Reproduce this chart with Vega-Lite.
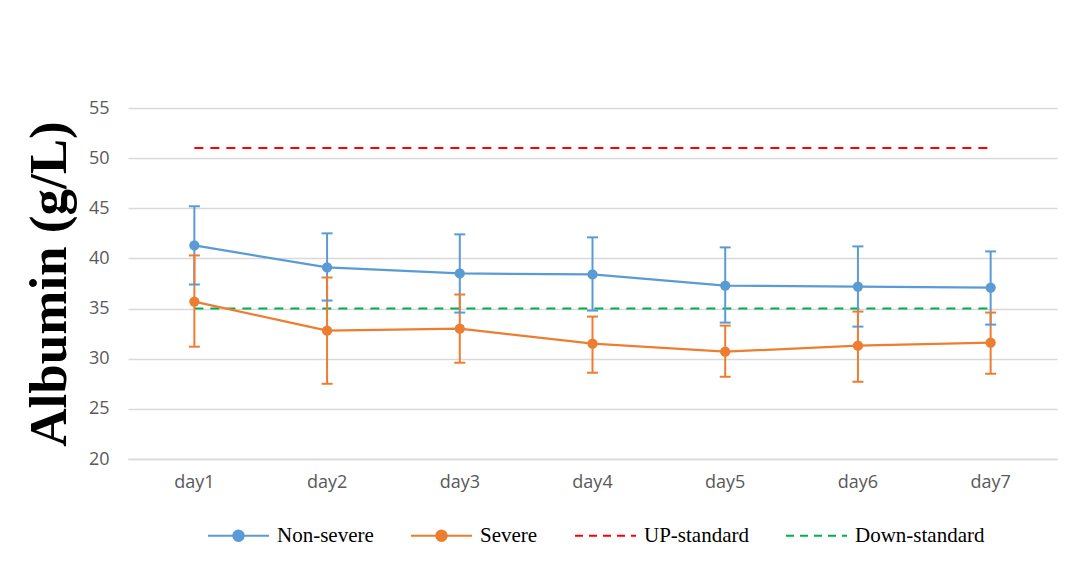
{
  "$schema": "https://vega.github.io/schema/vega-lite/v6.json",
  "autosize": {"type": "none"},
  "padding": {"left": 128, "top": 108, "right": 13, "bottom": 106},
  "width": 929,
  "height": 351,
  "background": "white",
  "config": {"view": {"stroke": null}},
  "datasets": {
    "series": [
      {"day": "day1", "series": "Non-severe", "value": 41.3, "lo": 37.4, "hi": 45.2},
      {"day": "day2", "series": "Non-severe", "value": 39.1, "lo": 35.8, "hi": 42.5},
      {"day": "day3", "series": "Non-severe", "value": 38.5, "lo": 34.6, "hi": 42.4},
      {"day": "day4", "series": "Non-severe", "value": 38.4, "lo": 34.8, "hi": 42.1},
      {"day": "day5", "series": "Non-severe", "value": 37.3, "lo": 33.6, "hi": 41.1},
      {"day": "day6", "series": "Non-severe", "value": 37.2, "lo": 33.2, "hi": 41.2},
      {"day": "day7", "series": "Non-severe", "value": 37.1, "lo": 33.4, "hi": 40.7},
      {"day": "day1", "series": "Severe", "value": 35.7, "lo": 31.2, "hi": 40.3},
      {"day": "day2", "series": "Severe", "value": 32.8, "lo": 27.5, "hi": 38.1},
      {"day": "day3", "series": "Severe", "value": 33.0, "lo": 29.6, "hi": 36.4},
      {"day": "day4", "series": "Severe", "value": 31.5, "lo": 28.6, "hi": 34.2},
      {"day": "day5", "series": "Severe", "value": 30.7, "lo": 28.2, "hi": 33.3},
      {"day": "day6", "series": "Severe", "value": 31.3, "lo": 27.7, "hi": 34.7},
      {"day": "day7", "series": "Severe", "value": 31.6, "lo": 28.5, "hi": 34.6}
    ],
    "standards": [
      {"day": "day1", "series": "UP-standard", "value": 51},
      {"day": "day2", "series": "UP-standard", "value": 51},
      {"day": "day3", "series": "UP-standard", "value": 51},
      {"day": "day4", "series": "UP-standard", "value": 51},
      {"day": "day5", "series": "UP-standard", "value": 51},
      {"day": "day6", "series": "UP-standard", "value": 51},
      {"day": "day7", "series": "UP-standard", "value": 51},
      {"day": "day1", "series": "Down-standard", "value": 35},
      {"day": "day2", "series": "Down-standard", "value": 35},
      {"day": "day3", "series": "Down-standard", "value": 35},
      {"day": "day4", "series": "Down-standard", "value": 35},
      {"day": "day5", "series": "Down-standard", "value": 35},
      {"day": "day6", "series": "Down-standard", "value": 35},
      {"day": "day7", "series": "Down-standard", "value": 35}
    ]
  },
  "encoding": {
    "x": {
      "field": "day", "type": "nominal",
      "scale": {"type": "band", "paddingInner": 0, "paddingOuter": 0},
      "axis": {
        "title": null, "labelAngle": 0, "ticks": false,
        "domain": true, "domainColor": "#d9d9d9", "domainWidth": 1.5,
        "labelFont": "Open Sans", "labelFontSize": 18, "labelColor": "#595959",
        "labelPadding": 14
      }
    }
  },
  "layer": [
    {
      "data": {"name": "standards"},
      "mark": {"type": "line", "strokeWidth": 2},
      "encoding": {
        "y": {
          "field": "value", "type": "quantitative",
          "scale": {"domain": [20, 55], "nice": false, "zero": false},
          "axis": {
            "values": [20, 25, 30, 35, 40, 45, 50, 55],
            "title": "Albumin (g/L)",
            "titleFont": "Liberation Serif", "titleFontSize": 53, "titleFontWeight": "bold",
            "titleColor": "black", "titlePadding": 12,
            "domain": false, "ticks": false,
            "grid": true, "gridColor": "#d9d9d9", "gridWidth": 1.5,
            "labelFont": "Open Sans", "labelFontSize": 18, "labelColor": "#595959",
            "labelPadding": 19
          }
        },
        "color": {
          "field": "series", "type": "nominal", "title": null,
          "scale": {
            "domain": ["Non-severe", "Severe", "UP-standard", "Down-standard"],
            "range": ["#5B9BD5", "#ED7D31", "#FF0000", "#00B050"]
          },
          "legend": {
            "orient": "none", "legendX": 79, "legendY": 396,
            "direction": "horizontal", "columns": 4,
            "labelFont": "Liberation Serif", "labelFontSize": 21, "labelColor": "black",
            "labelOffset": 7, "columnPadding": 33,
            "symbolSize": 3721, "symbolStrokeWidth": 2,
            "encode": {
              "symbols": {
                "update": {
                  "shape": [
                    {"test": "datum.value === 'Non-severe' || datum.value === 'Severe'", "value": "M-1,0H1M0.17,0A0.17,0.17,0,1,1,-0.17,0A0.17,0.17,0,1,1,0.17,0Z"},
                    {"value": "M-1,0H1"}
                  ],
                  "fill": [
                    {"test": "datum.value === 'Non-severe' || datum.value === 'Severe'", "signal": "scale('color', datum.value)"},
                    {"value": "transparent"}
                  ],
                  "stroke": {"signal": "scale('color', datum.value)"},
                  "strokeDash": [
                    {"test": "datum.value === 'Non-severe' || datum.value === 'Severe'", "value": [1, 0]},
                    {"value": [8, 6]}
                  ],
                  "strokeWidth": {"value": 2}
                }
              }
            }
          }
        },
        "strokeDash": {
          "field": "series", "type": "nominal", "legend": null,
          "scale": {"domain": ["UP-standard", "Down-standard"], "range": [[9, 7], [9, 7]]}
        }
      }
    },
    {
      "data": {"name": "series"},
      "mark": {"type": "line", "strokeWidth": 2.25},
      "encoding": {
        "y": {"field": "value", "type": "quantitative"},
        "color": {"field": "series", "type": "nominal"}
      }
    },
    {
      "data": {"name": "series"},
      "mark": {"type": "rule", "strokeWidth": 2},
      "encoding": {
        "y": {"field": "lo", "type": "quantitative"},
        "y2": {"field": "hi"},
        "color": {"field": "series", "type": "nominal"}
      }
    },
    {
      "data": {"name": "series"},
      "mark": {"type": "tick", "thickness": 2, "size": 11, "orient": "horizontal", "opacity": 1},
      "encoding": {
        "y": {"field": "lo", "type": "quantitative"},
        "color": {"field": "series", "type": "nominal"}
      }
    },
    {
      "data": {"name": "series"},
      "mark": {"type": "tick", "thickness": 2, "size": 11, "orient": "horizontal", "opacity": 1},
      "encoding": {
        "y": {"field": "hi", "type": "quantitative"},
        "color": {"field": "series", "type": "nominal"}
      }
    },
    {
      "data": {"name": "series"},
      "mark": {"type": "point", "filled": true, "size": 105, "opacity": 1},
      "encoding": {
        "y": {"field": "value", "type": "quantitative"},
        "color": {"field": "series", "type": "nominal"}
      }
    }
  ]
}
